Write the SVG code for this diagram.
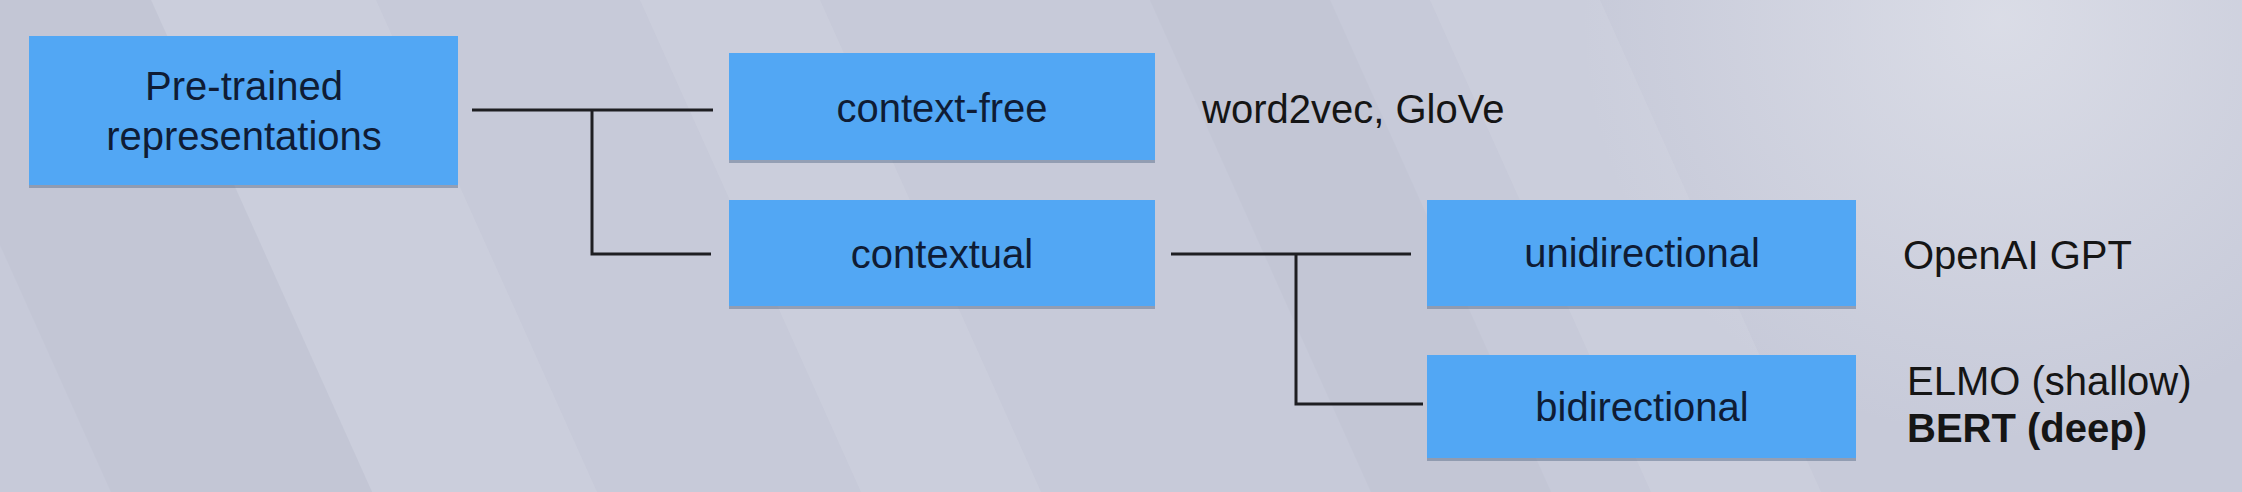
<svg xmlns="http://www.w3.org/2000/svg" width="2242" height="492" viewBox="0 0 2242 492">
<defs>
<radialGradient id="glow" cx="2000" cy="20" r="420" gradientUnits="userSpaceOnUse">
<stop offset="0" stop-color="#dfe1ea" stop-opacity="0.8"/>
<stop offset="1" stop-color="#dfe1ea" stop-opacity="0"/>
</radialGradient>
</defs>
<style>
.box{fill:#52A7F4}
.shadow{fill:#5d6f8c;opacity:0.5}
.lbl{font-family:"Liberation Sans",Arial,sans-serif;font-size:40px;fill:#0f1c35;text-anchor:middle}
.note{font-family:"Liberation Sans",Arial,sans-serif;font-size:40px;fill:#151515}
.conn{stroke:#1e1e22;stroke-width:3;fill:none}
.band{fill:#d3d6e3;opacity:0.35}
.dband{fill:#b9bccd;opacity:0.25}
</style>
<rect width="2242" height="492" fill="#c7cad9"/>
<g id="background">
<polygon class="band" points="151,0 376,0 597,492 372,492"/>
<polygon class="dband" points="-110,0 151,0 372,492 111,492"/>
<polygon class="band" points="640,0 820,0 1041,492 861,492"/>
<polygon class="dband" points="1150,0 1330,0 1551,492 1371,492"/>
<polygon class="band" points="1430,0 1600,0 1821,492 1651,492"/>
<rect x="1500" y="0" width="742" height="492" fill="url(#glow)"/>
</g>
<g id="connectors">
<path class="conn" d="M472,110 H713"/>
<path class="conn" d="M592,110 V254 H711"/>
<path class="conn" d="M1171,254 H1411"/>
<path class="conn" d="M1296,254 V404 H1423"/>
</g>
<g id="node-pretrained">
<rect class="shadow" x="29" y="38" width="429" height="150"/>
<rect class="box" x="29" y="36" width="429" height="149"/>
<text class="lbl" x="244" y="100">Pre-trained</text>
<text class="lbl" x="244" y="150">representations</text>
</g>
<g id="node-contextfree">
<rect class="shadow" x="729" y="55" width="426" height="108"/>
<rect class="box" x="729" y="53" width="426" height="107"/>
<text class="lbl" x="942" y="122">context-free</text>
</g>
<g id="node-contextual">
<rect class="shadow" x="729" y="202" width="426" height="107"/>
<rect class="box" x="729" y="200" width="426" height="106"/>
<text class="lbl" x="942" y="268">contextual</text>
</g>
<g id="node-unidirectional">
<rect class="shadow" x="1427" y="202" width="429" height="107"/>
<rect class="box" x="1427" y="200" width="429" height="106"/>
<text class="lbl" x="1642" y="267">unidirectional</text>
</g>
<g id="node-bidirectional">
<rect class="shadow" x="1427" y="357" width="429" height="104"/>
<rect class="box" x="1427" y="355" width="429" height="103"/>
<text class="lbl" x="1642" y="421">bidirectional</text>
</g>
<g id="notes">
<text class="note" x="1202" y="123">word2vec, GloVe</text>
<text class="note" x="1903" y="269">OpenAI GPT</text>
<text class="note" x="1907" y="395">ELMO (shallow)</text>
<text class="note" x="1907" y="442" font-weight="bold">BERT (deep)</text>
</g>
</svg>
